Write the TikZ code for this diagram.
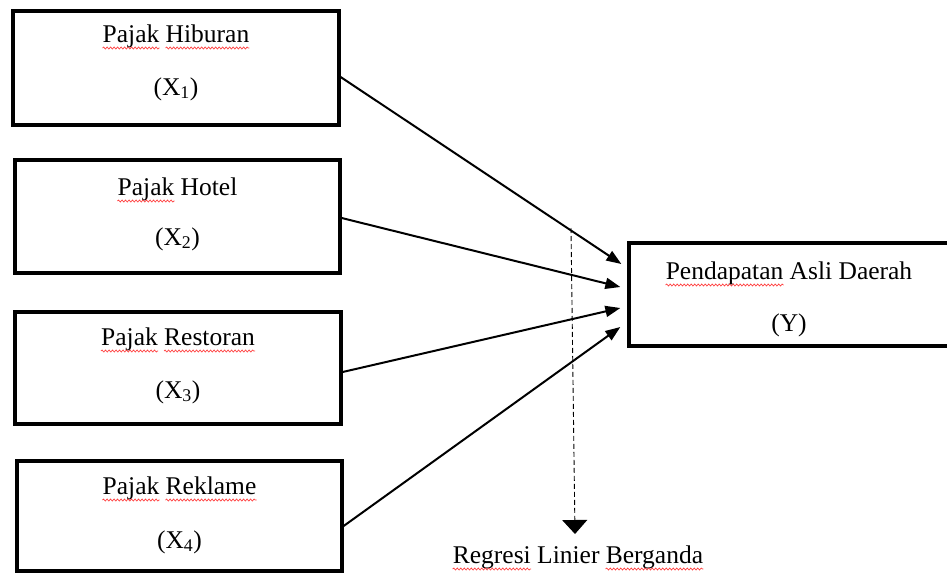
\documentclass[tikz,border=0pt]{standalone}
\usepackage{fontspec}
\setmainfont{Liberation Serif}
\usetikzlibrary{arrows.meta,decorations.pathmorphing}
\begin{document}
\begin{tikzpicture}[x=1pt,y=-1pt,
  box/.style={draw,line width=3.3pt,inner sep=0},
  lbl/.style={inner sep=0,anchor=base,font=\fontsize{25.5}{30}\selectfont},
  ghost/.style={inner sep=0,text opacity=0,font=\fontsize{25.5}{30}\selectfont},
  squig/.style={draw=red!75,line width=0.7pt,decorate,decoration={snake,amplitude=1pt,segment length=3.5pt}},
  arr/.style={line width=2pt,-{Triangle[length=15pt,width=11pt]}},
  dasharr/.style={line width=0.9pt,dash pattern=on 5pt off 3pt,-{Triangle[length=14pt,width=25pt]}},
]
\useasboundingbox (0,0) rectangle (947,573);
% boxes
\node[box,minimum width=326pt,minimum height=114pt] (b1) at (176,68) {};
\node[box,minimum width=325pt,minimum height=113pt] (b2) at (177.5,216.5) {};
\node[box,minimum width=326pt,minimum height=112pt] (b3) at (178,368) {};
\node[box,minimum width=325pt,minimum height=110pt] (b4) at (179.5,516) {};
\node[box,minimum width=336pt,minimum height=103pt] (y) at (797,294.5) {};
% texts
\node[lbl] (l1a) at (176,42) {Pajak Hiburan};
\node[lbl] (l1b) at (176,95) {(X\textsubscript{1})};
\node[lbl] (l2a) at (177.5,195) {Pajak Hotel};
\node[lbl] (l2b) at (177.5,245) {(X\textsubscript{2})};
\node[lbl] (l3a) at (178,345) {Pajak Restoran};
\node[lbl] (l3b) at (178,398) {(X\textsubscript{3})};
\node[lbl] (l4a) at (179.5,494) {Pajak Reklame};
\node[lbl] (l4b) at (179.5,548) {(X\textsubscript{4})};
\node[lbl] (lya) at (789,279) {Pendapatan Asli Daerah};
\node[lbl] (lyb) at (789,331) {(Y)};
\node[lbl] (reg) at (578,563) {Regresi Linier Berganda};
% spell-check marks
\node[ghost,anchor=base west] (g1a) at (l1a.base west) {Pajak};
\node[ghost,anchor=base east] (g1b) at (l1a.base east) {Hiburan};
\node[ghost,anchor=base west] (g2a) at (l2a.base west) {Pajak};
\node[ghost,anchor=base west] (g3a) at (l3a.base west) {Pajak};
\node[ghost,anchor=base east] (g3b) at (l3a.base east) {Restoran};
\node[ghost,anchor=base west] (g4a) at (l4a.base west) {Pajak};
\node[ghost,anchor=base east] (g4b) at (l4a.base east) {Reklame};
\node[ghost,anchor=base west] (gya) at (lya.base west) {Pendapatan};
\node[ghost,anchor=base west] (gra) at (reg.base west) {Regresi};
\node[ghost,anchor=base east] (grb) at (reg.base east) {Berganda};
\foreach \g in {g1a,g1b,g2a,g3a,g3b,g4a,g4b,gya,gra,grb}
  \draw[squig] ([yshift=-6pt]\g.base west) -- ([yshift=-6pt]\g.base east);
% connector end points
\path (b1.east) ++(0,9) coordinate (s1);
\path (b2.east) ++(0,1.5) coordinate (s2);
\path (b3.east) ++(0,4) coordinate (s3);
\path (b4.east) ++(0,10) coordinate (s4);
\path (y.west) ++(-6,-30.5) coordinate (e1);
\path (y.west) ++(-7,-7.5) coordinate (e2);
\path (y.west) ++(-7,13.5) coordinate (e3);
\path (y.west) ++(-7,32.5) coordinate (e4);
\draw[arr] (s1) -- (e1);
\draw[arr] (s2) -- (e2);
\draw[arr] (s3) -- (e3);
\draw[arr] (s4) -- (e4);
% dashed arrow
\coordinate (d0) at (571,228);
\coordinate (d1) at (575,534);
\draw[dasharr] (d0) -- (d1);
\end{tikzpicture}
\end{document}
